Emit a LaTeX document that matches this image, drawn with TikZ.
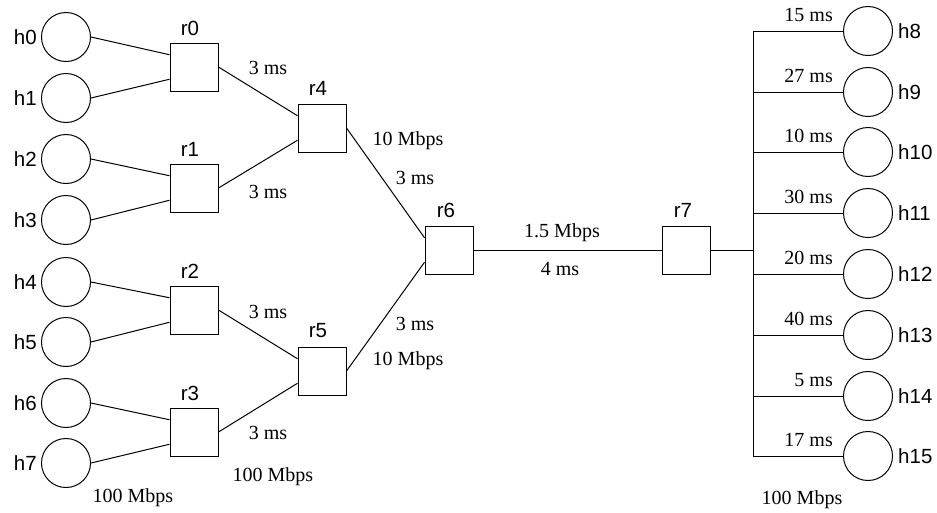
\documentclass[tikz,border=0pt]{standalone}
\usepackage{fontspec}
\setmainfont{Liberation Serif}
\setsansfont{Liberation Sans}
\usetikzlibrary{calc}
\begin{document}
\begin{tikzpicture}[x=1pt,y=-1pt,
  host/.style={circle,draw,line width=1pt,minimum size=49pt,inner sep=0pt},
  router/.style={rectangle,draw,line width=1pt,minimum size=48pt,inner sep=0pt},
  link/.style={line width=1pt},
  hname/.style={font=\sffamily\fontsize{20.5}{21}\selectfont,inner sep=0pt},
  lbl/.style={font=\fontsize{20}{22}\selectfont,inner sep=0pt}]
\useasboundingbox (0,0) rectangle (937,512);
% left hosts
\foreach \i/\y in {0/37,1/98,2/159,3/220,4/282,5/342,6/403,7/463}{
  \node[host] (h\i) at (66,\y) {};
  \node[hname,anchor=east] (lh\i) at (37,\y) {h\i};
}
% routers
\node[router] (r0) at (194,67) {};
\node[router] (r1) at (194,188) {};
\node[router] (r2) at (194,310) {};
\node[router] (r3) at (194,432) {};
\node[router] (r4) at (322,128) {};
\node[router] (r5) at (322,371) {};
\node[router] (r6) at (449,250) {};
\node[router] (r7) at (686,250) {};
\node[hname] (lr0) at (190,28) {r0};
\node[hname] (lr1) at (190,149) {r1};
\node[hname] (lr2) at (190,271) {r2};
\node[hname] (lr3) at (190,393) {r3};
\node[hname] (lr4) at (318,88) {r4};
\node[hname] (lr5) at (318,331) {r5};
\node[hname] (lr6) at (446,210) {r6};
\node[hname] (lr7) at (683,210) {r7};
% host-router links
\foreach \r/\a/\b in {0/0/1,1/2/3,2/4/5,3/6/7}{
  \draw[link] (h\a.east) -- ($(r\r.north west)!0.25!(r\r.south west)$);
  \draw[link] (h\b.east) -- ($(r\r.north west)!0.75!(r\r.south west)$);
}
\draw[link] (r0.east) -- ($(r4.north west)!0.25!(r4.south west)$);
\draw[link] (r1.east) -- ($(r4.north west)!0.75!(r4.south west)$);
\draw[link] (r2.east) -- ($(r5.north west)!0.25!(r5.south west)$);
\draw[link] (r3.east) -- ($(r5.north west)!0.75!(r5.south west)$);
\draw[link] (r4.east) -- ($(r6.north west)!0.25!(r6.south west)$);
\draw[link] (r5.east) -- ($(r6.north west)!0.75!(r6.south west)$);
\draw[link] (r6.east) -- (r7.west);
% right side bus
\coordinate (bm) at (753,250);
\draw[link] (r7.east) -- (bm);
\foreach \i/\y/\d in {8/31/15,9/92/27,10/152/10,11/213/30,12/274/20,13/335/40,14/396/5,15/456/17}{
  \node[host] (h\i) at (868,\y) {};
  \node[hname,anchor=west] (lh\i) at (898,\y) {h\i};
  \coordinate (b\i) at (753,\y);
  \draw[link] (b\i) -- (h\i.west);
  \node[lbl,anchor=east] (d\i) at (833,\y-16) {\d\ ms};
}
\draw[link] (b8) -- (b15);
% link labels
\node[lbl] (t1) at (268,68) {3 ms};
\node[lbl] (t2) at (268,192) {3 ms};
\node[lbl] (t3) at (268,312) {3 ms};
\node[lbl] (t4) at (268,433) {3 ms};
\node[lbl] (t5) at (408,141) {10 Mbps};
\node[lbl] (t6) at (415,178) {3 ms};
\node[lbl] (t7) at (415,324) {3 ms};
\node[lbl] (t8) at (408,361) {10 Mbps};
\node[lbl] (t9) at (562,233) {1.5 Mbps};
\node[lbl] (t10) at (560,269) {4 ms};
\node[lbl] (t11) at (133,498) {100 Mbps};
\node[lbl] (t12) at (273,477) {100 Mbps};
\node[lbl] (t13) at (802,500) {100 Mbps};
\end{tikzpicture}
\end{document}
